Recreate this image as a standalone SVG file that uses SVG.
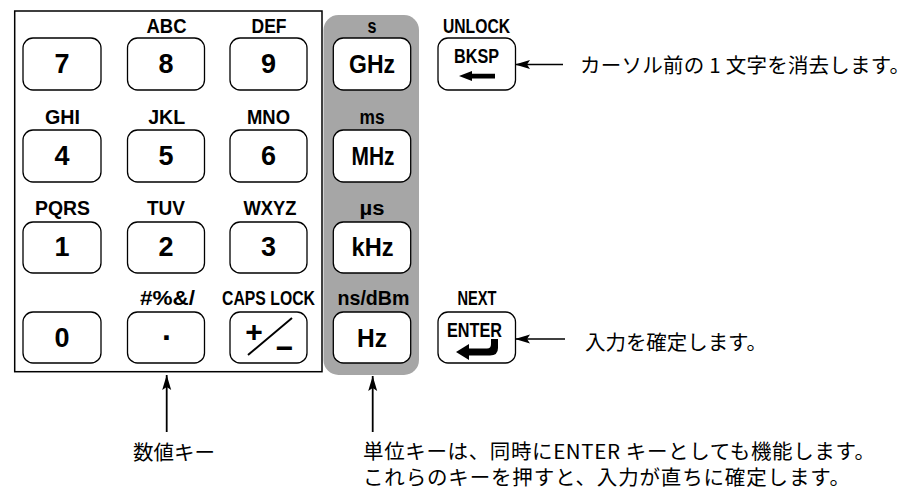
<svg xmlns="http://www.w3.org/2000/svg" width="917" height="489" viewBox="0 0 917 489">
<style>
.key{fill:#fff;stroke:#000;stroke-width:1.3}
.t{font-family:"Liberation Sans",Arial,sans-serif;font-weight:bold;text-anchor:middle;fill:#000}
.lbl{font-size:20px}
.big{font-size:27px}
.jp{font-family:"Noto Sans CJK JP","Noto Sans CJK SC",sans-serif;font-size:20.5px;fill:#000}
.conn{stroke:#000;fill:none;marker-end:url(#ah)}
</style>
<defs>
<marker id="ah" markerUnits="userSpaceOnUse" markerWidth="16" markerHeight="10" refX="15" refY="4.5" orient="auto">
<path d="M0,0 L15,4.5 L0,9 L3,4.5 z" fill="#000"/>
</marker>
</defs>
<rect x="14.7" y="11" width="307.3" height="360.7" fill="#fff" stroke="#000" stroke-width="1.5"/>
<rect id="unit-panel" x="323.5" y="15" width="95.5" height="360" rx="15" fill="#a6a6a6"/>

<g id="key7"><rect class="key" x="23" y="38" width="78" height="52" rx="10"/><text class="t big" x="62" y="72.5">7</text></g>
<g id="key8"><text class="t lbl" x="166.5" y="33" textLength="40" lengthAdjust="spacingAndGlyphs">ABC</text><rect class="key" x="127.5" y="38" width="77" height="52" rx="10"/><text class="t big" x="166" y="72.5">8</text></g>
<g id="key9"><text class="t lbl" x="269" y="33" textLength="35" lengthAdjust="spacingAndGlyphs">DEF</text><rect class="key" x="230" y="38" width="77" height="52" rx="10"/><text class="t big" x="268.5" y="72.5">9</text></g>

<g id="key4"><text class="t lbl" x="62.5" y="123.5" textLength="35" lengthAdjust="spacingAndGlyphs">GHI</text><rect class="key" x="23" y="130" width="78" height="52" rx="10"/><text class="t big" x="62" y="164.5">4</text></g>
<g id="key5"><text class="t lbl" x="166.7" y="123.5" textLength="37" lengthAdjust="spacingAndGlyphs">JKL</text><rect class="key" x="127.5" y="130" width="77" height="52" rx="10"/><text class="t big" x="166" y="164.5">5</text></g>
<g id="key6"><text class="t lbl" x="268.5" y="123.5" textLength="43" lengthAdjust="spacingAndGlyphs">MNO</text><rect class="key" x="230" y="130" width="77" height="52" rx="10"/><text class="t big" x="268.5" y="164.5">6</text></g>

<g id="key1"><text class="t lbl" x="62.5" y="215" textLength="55" lengthAdjust="spacingAndGlyphs">PQRS</text><rect class="key" x="23" y="222" width="78" height="51" rx="10"/><text class="t big" x="62" y="255.5">1</text></g>
<g id="key2"><text class="t lbl" x="166" y="215" textLength="38" lengthAdjust="spacingAndGlyphs">TUV</text><rect class="key" x="127.5" y="222" width="77" height="51" rx="10"/><text class="t big" x="166" y="255.5">2</text></g>
<g id="key3"><text class="t lbl" x="270" y="215" textLength="53" lengthAdjust="spacingAndGlyphs">WXYZ</text><rect class="key" x="230" y="222" width="77" height="51" rx="10"/><text class="t big" x="268.5" y="255.5">3</text></g>

<g id="key0"><rect class="key" x="23" y="312" width="78" height="51" rx="10"/><text class="t big" x="62" y="346.5">0</text></g>
<g id="keydot"><text class="t lbl" x="167.5" y="305" textLength="55" lengthAdjust="spacingAndGlyphs">#%&amp;/</text><rect class="key" x="127.5" y="312" width="77" height="51" rx="10"/><text class="t" x="166.5" y="340" font-size="32">.</text></g>
<g id="keypm"><text class="t lbl" x="268.5" y="305" textLength="93" lengthAdjust="spacingAndGlyphs">CAPS LOCK</text><rect class="key" x="230" y="312" width="77" height="51" rx="10"/><text class="t" x="254" y="342" font-size="30">+</text><line x1="248" y1="355" x2="292" y2="318" stroke="#000" stroke-width="2"/><text class="t" x="284.5" y="358" font-size="30">−</text></g>

<g id="keyGHz"><text class="t lbl" x="372" y="33" textLength="9" lengthAdjust="spacingAndGlyphs">s</text><rect class="key" x="333.3" y="38" width="77.4" height="52" rx="10"/><text class="t" x="372" y="72.5" font-size="25" textLength="46" lengthAdjust="spacingAndGlyphs">GHz</text></g>
<g id="keyMHz"><text class="t lbl" x="372" y="123.5" textLength="25" lengthAdjust="spacingAndGlyphs">ms</text><rect class="key" x="333.3" y="130" width="77.4" height="52" rx="10"/><text class="t" x="373" y="164.5" font-size="25" textLength="43" lengthAdjust="spacingAndGlyphs">MHz</text></g>
<g id="keykHz"><text class="t lbl" x="372" y="215" textLength="25" lengthAdjust="spacingAndGlyphs">µs</text><rect class="key" x="333.3" y="222" width="77.4" height="51" rx="10"/><text class="t" x="372.5" y="255.5" font-size="25" textLength="42" lengthAdjust="spacingAndGlyphs">kHz</text></g>
<g id="keyHz"><text class="t lbl" x="373.5" y="305" textLength="72" lengthAdjust="spacingAndGlyphs">ns/dBm</text><rect class="key" x="333.3" y="312" width="77.4" height="51" rx="10"/><text class="t" x="372" y="346.5" font-size="25" textLength="30" lengthAdjust="spacingAndGlyphs">Hz</text></g>

<g id="keyBKSP"><text class="t lbl" x="476.5" y="33" textLength="67" lengthAdjust="spacingAndGlyphs">UNLOCK</text><rect class="key" x="438" y="38" width="77.5" height="52" rx="10"/><text class="t" x="476.5" y="63.3" font-size="20" textLength="45" lengthAdjust="spacingAndGlyphs">BKSP</text><path d="M459,76 L472,71 L472,73.8 L495,73.8 L495,78.4 L472,78.4 L472,81 z" fill="#000"/></g>
<g id="keyENTER"><text class="t lbl" x="477" y="305" textLength="39" lengthAdjust="spacingAndGlyphs">NEXT</text><rect class="key" x="438" y="312" width="77.5" height="51" rx="10"/><text class="t" x="474.5" y="336.7" font-size="21" textLength="55" lengthAdjust="spacingAndGlyphs">ENTER</text><path d="M456,352 L469,344 L469,348.5 L487,348.5 Q491,348.5 491,344 L491,339 L498,339 L498,348 Q498,355.5 490,355.5 L469,355.5 L469,360 z" fill="#000"/></g>

<g id="connectors">
<line class="conn" x1="563" y1="64.5" x2="515" y2="64.5" stroke-width="1.3"/>
<line class="conn" x1="565" y1="339" x2="515" y2="339" stroke-width="1.3"/>
<line class="conn" x1="166.7" y1="432" x2="166.7" y2="375" stroke-width="1.8"/>
<line class="conn" x1="372.7" y1="432" x2="372.7" y2="376" stroke-width="1.8"/>
</g>

<g id="notes">
<text class="jp" x="580" y="73" textLength="330" lengthAdjust="spacing">カーソル前の 1 文字を消去します。</text>
<text class="jp" x="585" y="349.5" textLength="182" lengthAdjust="spacing">入力を確定します。</text>
<text class="jp" x="133" y="459.5" textLength="82" lengthAdjust="spacing">数値キー</text>
<text class="jp" x="363" y="458.5" textLength="512" lengthAdjust="spacing">単位キーは、同時にENTER キーとしても機能します。</text>
<text class="jp" x="363" y="484.5" textLength="487" lengthAdjust="spacing">これらのキーを押すと、入力が直ちに確定します。</text>
</g>
</svg>
